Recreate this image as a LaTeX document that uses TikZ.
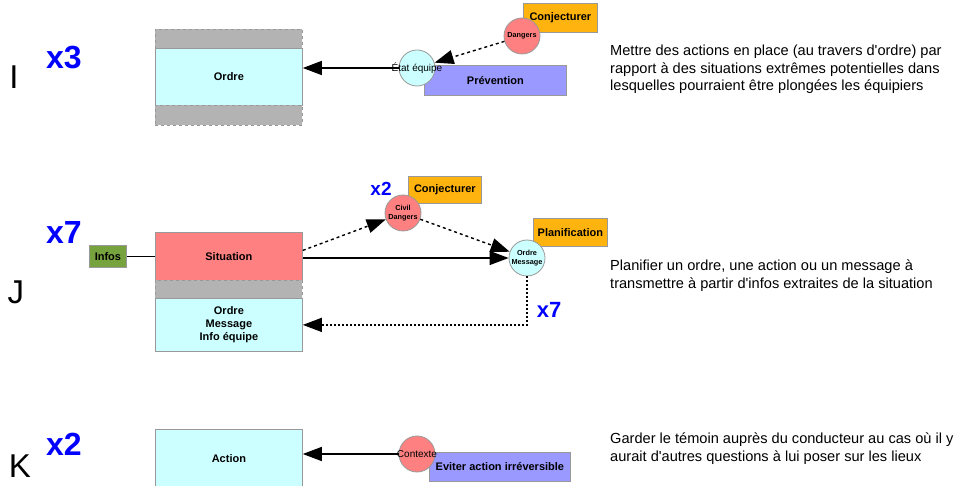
\documentclass[tikz,border=0pt]{standalone}
\usepackage{fontspec}
\setmainfont{Liberation Sans}
\usepackage{tikz}
\usetikzlibrary{arrows.meta, positioning}
\definecolor{cielclair}{HTML}{CCFFFF}
\definecolor{grisfond}{HTML}{B3B3B3}
\definecolor{rougeclair}{HTML}{FF8080}
\definecolor{orangevif}{HTML}{FFB30F}
\definecolor{bleulavande}{HTML}{9999FF}
\definecolor{vertinfos}{HTML}{77A33F}
\definecolor{bordgris}{HTML}{999999}
\newcommand{\apos}{\textquotesingle}
\tikzset{
  boite/.style={draw=bordgris, line width=0.8pt, inner sep=0pt, align=center,
    anchor=north west, font=\bfseries\fontsize{11}{13}\selectfont},
  cielbox/.style={boite, fill=cielclair},
  grisbox/.style={boite, fill=grisfond, dashed},
  rougebox/.style={boite, fill=rougeclair},
  orangebox/.style={boite, fill=orangevif},
  lavandebox/.style={boite, fill=bleulavande},
  vertbox/.style={boite, fill=vertinfos},
  cercle/.style={circle, draw=bordgris, line width=0.8pt, minimum size=36pt,
    inner sep=0pt, align=center},
  petittxt/.style={font=\bfseries\fontsize{7.3}{8.8}\selectfont},
  moyentxt/.style={font=\fontsize{10}{12}\selectfont},
  fois/.style={text=blue, font=\bfseries\fontsize{#1}{#1}\selectfont},
  lettre/.style={font=\fontsize{33}{33}\selectfont},
  explic/.style={anchor=west, align=left, inner sep=0pt,
    font=\fontsize{14.6}{17.5}\selectfont},
  fleche/.style={-{Triangle[length=19pt, width=14pt]}, line width=1.4pt},
  flechetiret/.style={-{Triangle[length=19pt, width=14pt]}, line width=1.4pt,
    dash pattern=on 3pt off 3pt},
  flechepoint/.style={-{Triangle[length=19pt, width=14pt]}, line width=1.4pt,
    dash pattern=on 2pt off 2pt},
}

\begin{document}
\begin{tikzpicture}[x=1pt, y=-1pt]
  \useasboundingbox (0,0) rectangle (962,486);

  % Ligne I
  \node[lettre] (lettreI) at (14,77) {I};
  \node[fois=32] (foisI) at (64,58) {x3};
  \node[grisbox, minimum width=147pt, minimum height=19pt] (grisIa) at (155,29) {};
  \node[cielbox, minimum width=147pt, minimum height=57pt] (ordreI) at (155,48) {Ordre};
  \node[grisbox, minimum width=147pt, minimum height=20pt] (grisIb) at (155,105) {};
  \node[lavandebox, minimum width=142pt, minimum height=30pt] (prevention) at (424,65) {Prévention};
  \node[cercle, fill=cielclair] (etat) at (417,68) {};
  \node[moyentxt] (etattxt) at (etat) {État équipe};
  \node[orangebox, minimum width=74pt, minimum height=29pt] (conjI) at (523,3) {Conjecturer};
  \node[cercle, fill=rougeclair, petittxt] (dangers) at (522,36) {Dangers};
  \draw[fleche] (etat.west) -- (etat.west -| ordreI.east);
  \draw[flechetiret] (dangers) -- (etat);
  \node[explic] (texteI) at (610,69.5) {Mettre des actions en place (au travers d\apos ordre) par\\
    rapport à des situations extrêmes potentielles dans\\
    lesquelles pourraient être plongées les équipiers};

  % Ligne J
  \node[lettre] (lettreJ) at (16,292) {J};
  \node[fois=32] (foisJ) at (64,232) {x7};
  \node[vertbox, minimum width=37pt, minimum height=22pt] (infos) at (89,245) {Infos};
  \node[rougebox, minimum width=147pt, minimum height=48pt] (situation) at (155,232) {Situation};
  \node[grisbox, minimum width=147pt, minimum height=18pt] (grisJ) at (155,280) {};
  \node[cielbox, minimum width=147pt, minimum height=53pt] (ordreJ) at (155,298) {Ordre\\Message\\Info équipe};
  \node[orangebox, minimum width=73pt, minimum height=27pt] (conjJ) at (408,176) {Conjecturer};
  \node[cercle, fill=rougeclair, petittxt] (civil) at (403,213) {Civil\\Dangers};
  \node[fois=19] (foisciv) at (381,189) {x2};
  \node[orangebox, minimum width=74pt, minimum height=28pt] (planif) at (533,218) {Planification};
  \node[cercle, fill=cielclair, petittxt] (ordremsg) at (527,258) {Ordre\\Message};
  \node[fois=22] (foisretour) at (549,310) {x7};
  \draw[line width=1.2pt] (infos) -- (situation);
  \draw[flechetiret] ([yshift=6pt]situation.east) -- (civil);
  \draw[flechetiret] (civil) -- (ordremsg);
  \draw[fleche] (situation.east |- ordremsg.west) -- (ordremsg.west);
  \draw[flechepoint] (ordremsg.south) |- (ordreJ.east);
  \node[explic] (texteJ) at (610,275.5) {Planifier un ordre, une action ou un message à\\
    transmettre à partir d\apos infos extraites de la situation};

  % Ligne K
  \node[lettre] (lettreK) at (20,466) {K};
  \node[fois=32] (foisK) at (64,444) {x2};
  \node[cielbox, minimum width=147pt, minimum height=58pt] (action) at (155,429) {Action};
  \node[lavandebox, minimum width=141pt, minimum height=29pt] (eviter) at (429,452) {Eviter action irréversible};
  \node[cercle, fill=rougeclair] (contexte) at (417,454) {};
  \node[moyentxt] (contextetxt) at (contexte) {Contexte};
  \draw[fleche] (contexte.west) -- (contexte.west -| action.east);
  \node[explic] (texteK) at (610,448.5) {Garder le témoin auprès du conducteur au cas où il y\\
    aurait d\apos autres questions à lui poser sur les lieux};
\end{tikzpicture}
\end{document}
